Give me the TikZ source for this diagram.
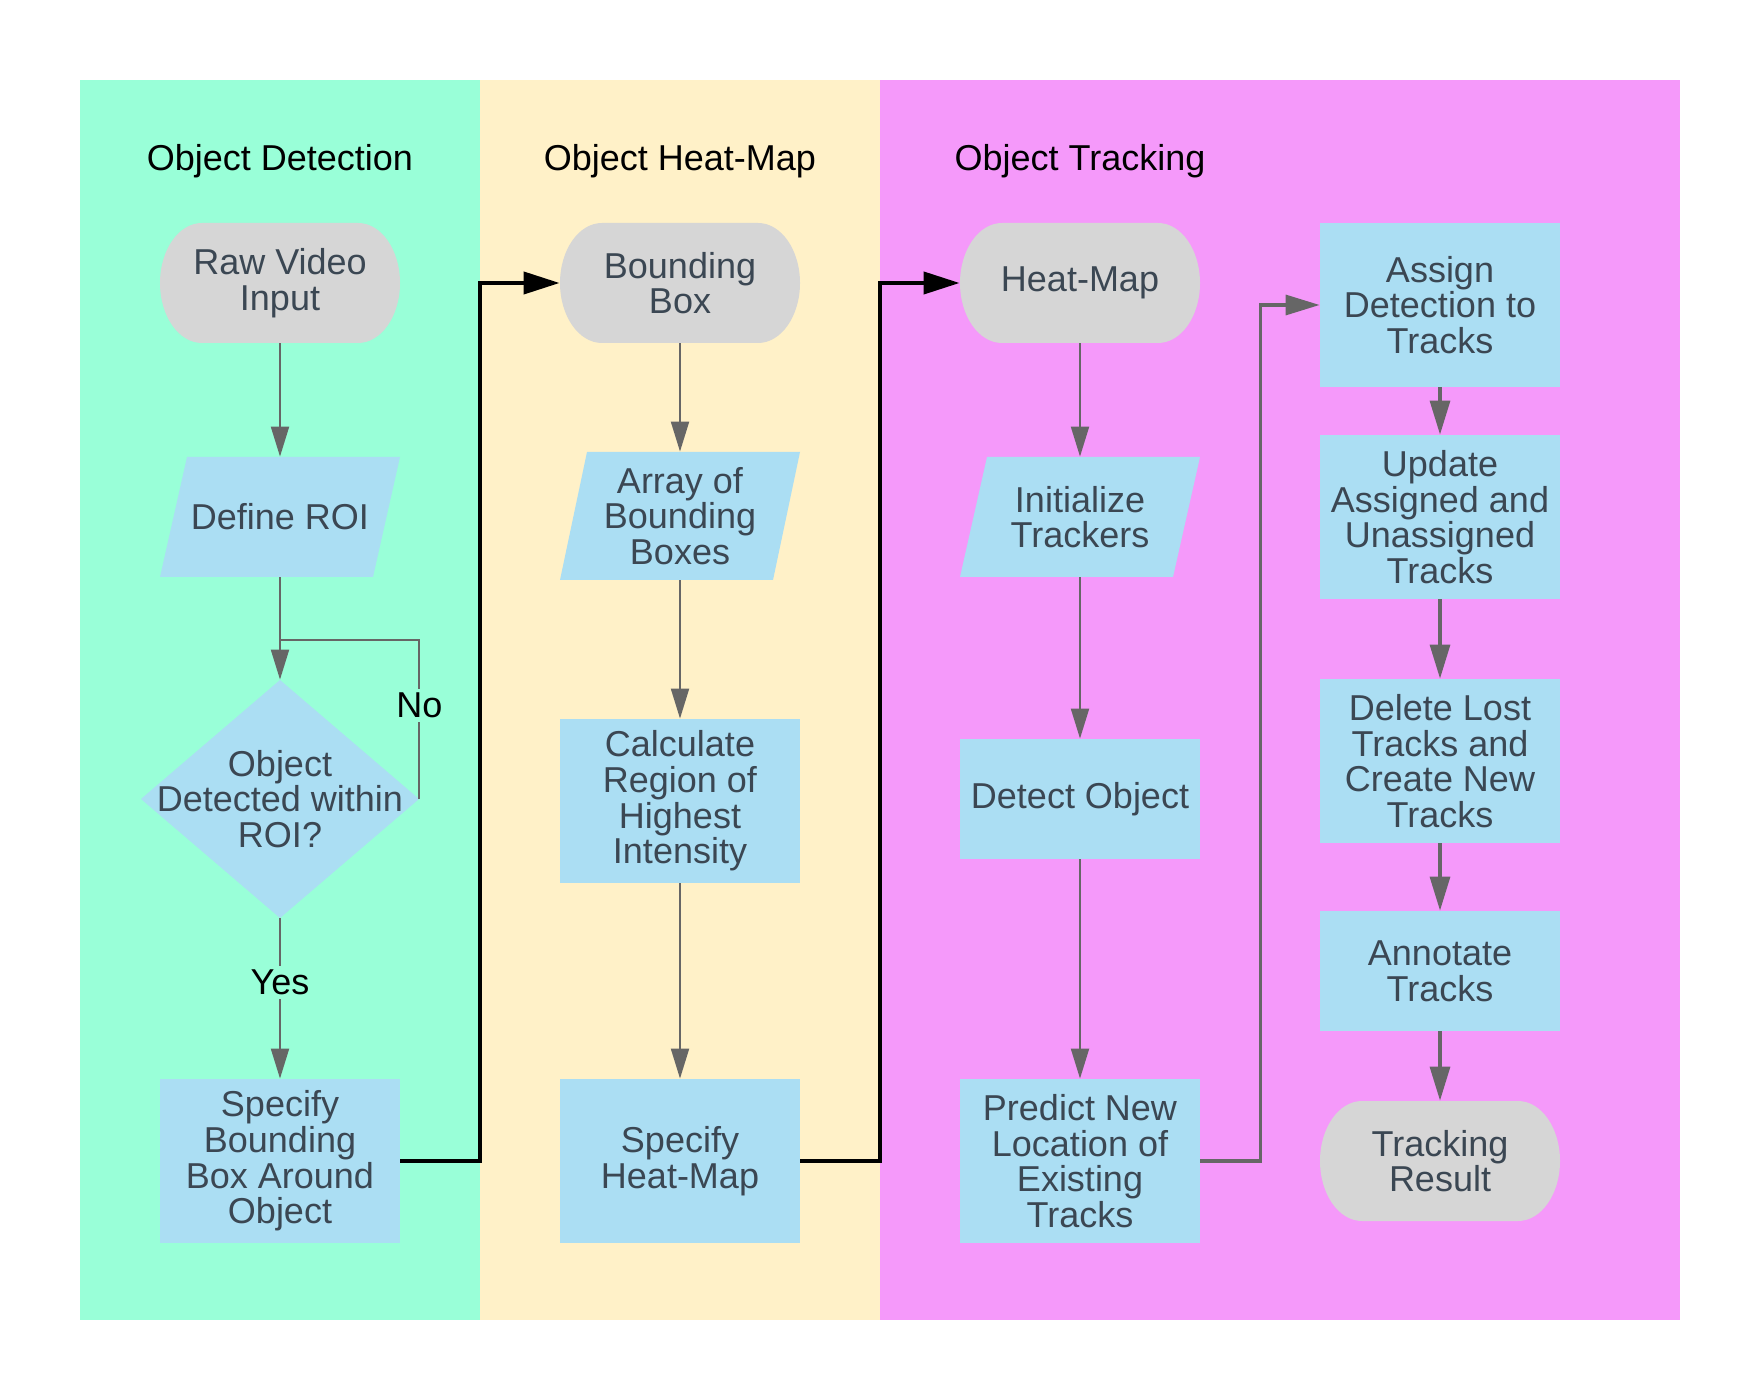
\documentclass[tikz,border=0pt]{standalone}
\usepackage{fontspec}
\setmainfont{Liberation Sans}
\usetikzlibrary{arrows.meta}
\definecolor{laneA}{HTML}{99FFD8}
\definecolor{laneB}{HTML}{FFF1C8}
\definecolor{laneC}{HTML}{F599FA}
\definecolor{nodeblue}{HTML}{ABDEF3}
\definecolor{termgray}{HTML}{D6D6D6}
\definecolor{textcol}{HTML}{3B4753}
\definecolor{arrowgray}{HTML}{666666}
\newcommand\nodefont{\fontsize{18pt}{17.8pt}\selectfont}
\tikzset{
  box/.style={rectangle, fill=nodeblue, minimum width=120pt, align=center, text=textcol, font=\nodefont, inner sep=0pt},
  term/.style={rectangle, minimum width=120pt, minimum height=60pt, align=center, text=textcol, font=\nodefont, inner sep=0pt,
    path picture={\fill[termgray] ([xshift=21pt]path picture bounding box.north west) -- ([xshift=-21pt]path picture bounding box.north east) arc[start angle=90,end angle=-90,x radius=21pt,y radius=30pt] -- ([xshift=21pt]path picture bounding box.south west) arc[start angle=270,end angle=90,x radius=21pt,y radius=30pt] -- cycle;}},
  para/.style={rectangle, minimum width=120pt, align=center, text=textcol, font=\nodefont, inner sep=0pt,
    path picture={\fill[nodeblue] ([xshift=13.5pt]path picture bounding box.north west) -- (path picture bounding box.north east) -- ([xshift=-13.5pt]path picture bounding box.south east) -- (path picture bounding box.south west) -- cycle;}},
  decision/.style={rectangle, minimum width=139pt, minimum height=119pt, align=center, text=textcol, font=\nodefont, inner sep=0pt,
    path picture={\fill[nodeblue] (path picture bounding box.north) -- (path picture bounding box.east) -- (path picture bounding box.south) -- (path picture bounding box.west) -- cycle;}},
  title/.style={font=\nodefont, text=black},
  elabel/.style={font=\nodefont, text=black, inner sep=2pt},
  thinarrow/.style={draw=arrowgray, line width=1pt, -{Triangle[length=15pt,width=9pt]}},
  thickarrow/.style={draw=arrowgray, line width=1.6pt, -{Triangle[length=17pt,width=10pt]}},
  blackarrow/.style={draw=black, line width=2pt, -{Triangle[length=18pt,width=11pt]}},
}
\begin{document}
\begin{tikzpicture}[x=0.5pt,y=-0.5pt]
\useasboundingbox (0,0) rectangle (1760,1400);
\fill[white] (0,0) rectangle (1760,1400);
% lanes
\fill[laneA] (80,80) rectangle (480,1320);
\fill[laneB] (480,80) rectangle (880,1320);
\fill[laneC] (880,80) rectangle (1680,1320);
\node[title] (t1) at (280,161) {Object Detection};
\node[title] (t2) at (680,161) {Object Heat-Map};
\node[title] (t3) at (1080,161) {Object Tracking};
% lane 1
\node[term] (raw) at (280,283) {Raw Video\\Input};
\node[para, minimum height=60pt] (roi) at (280,517) {Define ROI};
\node[decision] (dec) at (280,799) {Object\\Detected within\\ROI?};
\node[box, minimum height=82pt] (sbb) at (280,1161) {Specify\\Bounding\\Box Around\\Object};
% lane 2
\node[term] (bb) at (680,283) {Bounding\\Box};
\node[para, minimum height=64pt] (arr) at (680,516) {Array of\\Bounding\\Boxes};
\node[box, minimum height=82pt] (calc) at (680,801) {Calculate\\Region of\\Highest\\Intensity};
\node[box, minimum height=82pt] (shm) at (680,1161) {Specify\\Heat-Map};
% lane 3
\node[term] (hm) at (1080,283) {Heat-Map};
\node[para, minimum height=60pt] (init) at (1080,517) {Initialize\\Trackers};
\node[box, minimum height=60pt] (det) at (1080,799) {Detect Object};
\node[box, minimum height=82pt] (pred) at (1080,1161) {Predict New\\Location of\\Existing\\Tracks};
\node[box, minimum height=82pt] (assign) at (1440,305) {Assign\\Detection to\\Tracks};
\node[box, minimum height=82pt] (update) at (1440,517) {Update\\Assigned and\\Unassigned\\Tracks};
\node[box, minimum height=82pt] (delete) at (1440,761) {Delete Lost\\Tracks and\\Create New\\Tracks};
\node[box, minimum height=60pt] (annot) at (1440,971) {Annotate\\Tracks};
\node[term] (result) at (1440,1161) {Tracking\\Result};
% connectors lane 1
\coordinate (j) at (280,640);
\draw[thinarrow] (raw.south) -- (roi.north);
\draw[thinarrow] (roi.south) -- (dec.north);
\draw[draw=arrowgray, line width=1pt] (dec.east) -- node[elabel, fill=laneA, pos=0.59] {No} (dec.east |- j) -- (j);
\draw[thinarrow] (dec.south) -- node[elabel, fill=laneA, pos=0.4] {Yes} (sbb.north);
\draw[blackarrow] (sbb.east) -- ++(80,0) |- (bb.west);
% lane 2
\draw[thinarrow] (bb.south) -- (arr.north);
\draw[thinarrow] (arr.south) -- (calc.north);
\draw[thinarrow] (calc.south) -- (shm.north);
\draw[blackarrow] (shm.east) -- ++(80,0) |- (hm.west);
% lane 3
\draw[thinarrow] (hm.south) -- (init.north);
\draw[thinarrow] (init.south) -- (det.north);
\draw[thinarrow] (det.south) -- (pred.north);
\draw[thickarrow] (pred.east) -- ++(60,0) |- (assign.west);
\draw[thickarrow] (assign.south) -- (update.north);
\draw[thickarrow] (update.south) -- (delete.north);
\draw[thickarrow] (delete.south) -- (annot.north);
\draw[thickarrow] (annot.south) -- (result.north);
\end{tikzpicture}
\end{document}
